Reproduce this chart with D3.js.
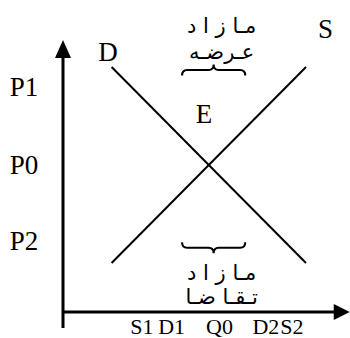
<!DOCTYPE html>
<html>
<head>
<meta charset="utf-8">
<script src="https://cdn.jsdelivr.net/npm/d3@7"></script>
<style>
body { margin:0; background:#fff; }
text { font-family: "Liberation Serif", "Times New Roman", serif; fill:#000; }
.fa { font-family: "DejaVu Sans", sans-serif; }
</style>
</head>
<body>
<script>
// curves (quantity, price)
var demand = [{q:2, p:10}, {q:10, p:2}];
var supply = [{q:2, p:2}, {q:10, p:10}];

// labels on axes
var priceLabels = [{name:"P1", p:9.2}, {name:"P0", p:6}, {name:"P2", p:2.9}];
var qtyLabels = [{name:"S1", q:3.25}, {name:"D1", q:4.47}, {name:"Q0", q:6.44}, {name:"D2", q:8.35}, {name:"S2", q:9.42}];

// surplus braces
var surplusSupply = {q0:4.9, q1:7.5, p:9.9, lines:["مـا ز ا د", "عـرضـه"]};
var surplusDemand = {q0:4.9, q1:7.5, p:2.6, lines:["مـا ز ا د", "تـقـا ضـا"]};

var width = 350, height = 338;

var x = d3.scaleLinear().domain([0, 10]).range([63, 306]);
var y = d3.scaleLinear().domain([0, 10]).range([312, 67]);

var svg = d3.select("body").append("svg")
    .attr("width", width).attr("height", height);

// axes
var yTop = 11.1, xEnd = 11.8;
svg.append("line")
    .attr("x1", x(0)).attr("x2", x(0))
    .attr("y1", y(0) + 16).attr("y2", y(yTop) + 16)
    .style("stroke", "#000").style("stroke-width", 3);
svg.append("path")
    .attr("d", "M" + x(0) + "," + y(yTop) + "L" + (x(0) - 8) + "," + (y(yTop) + 18) + "L" + (x(0) + 8) + "," + (y(yTop) + 18) + "Z")
    .style("fill", "#000");
svg.append("line")
    .attr("x1", x(0)).attr("x2", x(xEnd) - 14)
    .attr("y1", y(0)).attr("y2", y(0))
    .style("stroke", "#000").style("stroke-width", 3);
svg.append("path")
    .attr("d", "M" + x(xEnd) + "," + y(0) + "L" + (x(xEnd) - 16) + "," + (y(0) - 8) + "L" + (x(xEnd) - 16) + "," + (y(0) + 8) + "Z")
    .style("fill", "#000");

var line = d3.line()
    .x(function(d) { return x(d.q); })
    .y(function(d) { return y(d.p); });

svg.append("path").datum(demand).attr("d", line)
    .style("fill", "none").style("stroke", "#000").style("stroke-width", 2);
svg.append("path").datum(supply).attr("d", line)
    .style("fill", "none").style("stroke", "#000").style("stroke-width", 2);

// curve names
svg.append("text").attr("x", x(1.85)).attr("y", y(10.25)).style("font-size", "27px")
    .attr("text-anchor", "middle").text("D");
svg.append("text").attr("x", x(10.8)).attr("y", y(11.2)).style("font-size", "27px")
    .attr("text-anchor", "middle").text("S");
svg.append("text").attr("x", x(5.8)).attr("y", y(7.7)).style("font-size", "27px")
    .attr("text-anchor", "middle").text("E");

svg.selectAll(".plab").data(priceLabels).enter().append("text")
    .attr("class", "plab")
    .attr("x", 24).attr("y", function(d) { return y(d.p); })
    .attr("dy", "0.35em")
    .attr("text-anchor", "middle")
    .style("font-size", "27px")
    .text(function(d) { return d.name; });

svg.selectAll(".qlab").data(qtyLabels).enter().append("text")
    .attr("class", "qlab")
    .attr("x", function(d) { return x(d.q); }).attr("y", 334)
    .attr("text-anchor", "middle")
    .style("font-size", "22px")
    .text(function(d) { return d.name; });

function brace(x0, x1, yEnd, yTip) {
  var xm = (x0 + x1) / 2, ym = (yEnd + yTip) / 2, r = 5;
  return "M" + x0 + "," + yEnd +
    "Q" + x0 + "," + ym + " " + (x0 + r) + "," + ym +
    "L" + (xm - r) + "," + ym +
    "Q" + xm + "," + ym + " " + xm + "," + yTip +
    "Q" + xm + "," + ym + " " + (xm + r) + "," + ym +
    "L" + (x1 - r) + "," + ym +
    "Q" + x1 + "," + ym + " " + x1 + "," + yEnd;
}

// surplus of supply (above)
svg.append("path")
    .attr("d", brace(x(surplusSupply.q0), x(surplusSupply.q1), y(surplusSupply.p) + 6, y(surplusSupply.p) - 5))
    .style("fill", "none").style("stroke", "#000").style("stroke-width", 2);
svg.selectAll(".ss").data(surplusSupply.lines).enter().append("text")
    .attr("class", "fa")
    .attr("x", (x(surplusSupply.q0) + x(surplusSupply.q1)) / 2 + 8)
    .attr("y", function(d, i) { return 33 + i * 26; })
    .attr("text-anchor", "middle")
    .style("font-size", "21px")
    .text(function(d) { return d; });

// surplus of demand (below)
svg.append("path")
    .attr("d", brace(x(surplusDemand.q0), x(surplusDemand.q1), y(surplusDemand.p) - 6, y(surplusDemand.p) + 5))
    .style("fill", "none").style("stroke", "#000").style("stroke-width", 2);
svg.selectAll(".sd").data(surplusDemand.lines).enter().append("text")
    .attr("class", "fa")
    .attr("x", (x(surplusDemand.q0) + x(surplusDemand.q1)) / 2 + 8)
    .attr("y", function(d, i) { return 280 + i * 24; })
    .attr("text-anchor", "middle")
    .style("font-size", "21px")
    .text(function(d) { return d; });
</script>
</body>
</html>
